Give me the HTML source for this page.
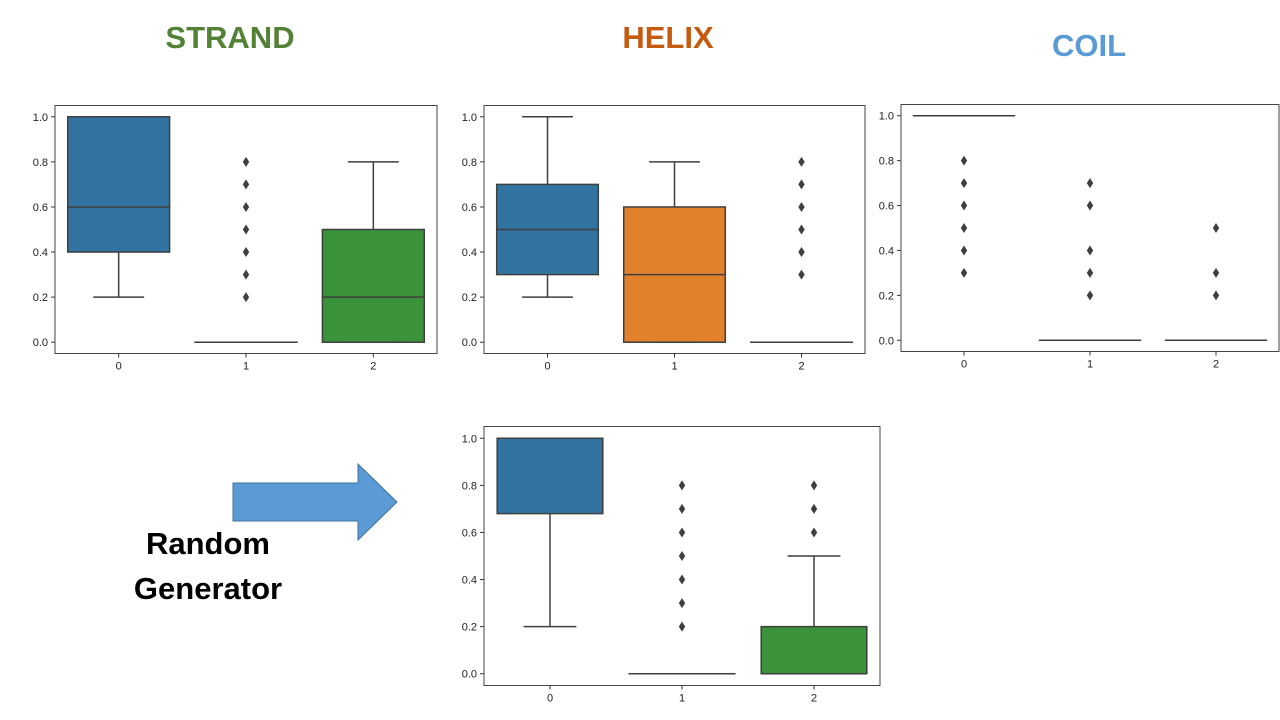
<!DOCTYPE html>
<html><head><meta charset="utf-8"><style>
body{margin:0;background:#fff;width:1280px;height:720px;overflow:hidden;font-family:"Liberation Sans",sans-serif}
.t{position:absolute;font-weight:bold;font-size:31px;transform:translateX(-50%);white-space:nowrap}
</style></head><body>
<div class="t" style="left:230px;top:20px;color:#538135">STRAND</div>
<div class="t" style="left:668px;top:20px;color:#c55a11">HELIX</div>
<div class="t" style="left:1089px;top:28px;color:#5b9bd5">COIL</div>
<div class="t" style="left:208px;top:521px;color:#000;text-align:center;line-height:45px">Random<br>Generator</div>
<svg id="s" width="1280" height="720" style="position:absolute;left:0;top:0">
<polygon points="233,483 358,483 358,464 397,502 358,540 358,521 233,521" fill="#5b9bd5" stroke="#41719c" stroke-width="1"/>
</svg>
<script>
const yTicks=[0,0.2,0.4,0.6,0.8,1.0];
const xCats=["0","1","2"];
const colors=["#3274a1","#e1812c","#3a923a"];
// per chart: [q1, median, q3, whiskerLow, whiskerHigh] for each category
const strandStats=[[0.4,0.6,1.0,0.2,1.0],[0,0,0,0,0],[0,0.2,0.5,0,0.8]];
const strandOut=[[],[0.2,0.3,0.4,0.5,0.6,0.7,0.8],[]];
const helixStats=[[0.3,0.5,0.7,0.2,1.0],[0,0.3,0.6,0,0.8],[0,0,0,0,0]];
const helixOut=[[],[],[0.3,0.4,0.5,0.6,0.7,0.8]];
const coilStats=[[1,1,1,1,1],[0,0,0,0,0],[0,0,0,0,0]];
const coilOut=[[0.3,0.4,0.5,0.6,0.7,0.8],[0.2,0.3,0.4,0.6,0.7],[0.2,0.3,0.5]];
const randStats=[[0.68,1.0,1.0,0.2,1.0],[0,0,0,0,0],[0,0,0.2,0,0.5]];
const randOut=[[],[0.2,0.3,0.4,0.5,0.6,0.7,0.8],[0.6,0.7,0.8]];

const svg=document.getElementById('s');
const NS="http://www.w3.org/2000/svg";
function mk(tag,attrs,parent){const e=document.createElementNS(NS,tag);for(const k in attrs)e.setAttribute(k,attrs[k]);(parent||svg).appendChild(e);return e;}
function chart(name,x0,y0,w,h,stats,outs){
  const g=mk('g',{});
  
  
  const sx=i=>x0+(i+0.5)/3*w;
  const sy=v=>y0+h-(v+0.05)/1.1*h;
  const bw=0.8*w/3;
  stats.forEach((s,i)=>{
    const cx=sx(i),[q1,md,q3,lo,hi]=s,col="#3f3f3f";
    const wl=mk('line',{x1:cx,x2:cx,y1:sy(q3),y2:sy(hi),stroke:col,'stroke-width':1.5},g);
    
    
    const wl2=mk('line',{x1:cx,x2:cx,y1:sy(q1),y2:sy(lo),stroke:col,'stroke-width':1.5},g);
    
    
    [lo,hi].forEach(v=>{const c=mk('line',{x1:cx-bw/4,x2:cx+bw/4,y1:sy(v),y2:sy(v),stroke:col,'stroke-width':1.5},g);
      
      });
    const r=mk('rect',{x:cx-bw/2,y:sy(q3),width:bw,height:Math.max(0.01,sy(q1)-sy(q3)),fill:colors[i],stroke:col,'stroke-width':1.5},g);
    
    
    const m=mk('line',{x1:cx-bw/2,x2:cx+bw/2,y1:sy(md),y2:sy(md),stroke:col,'stroke-width':1.5},g);
    
    
    outs[i].forEach(v=>{const d=mk('path',{d:`M${cx},${sy(v)-5}L${cx+3.2},${sy(v)}L${cx},${sy(v)+5}L${cx-3.2},${sy(v)}Z`,fill:col},g);
      
      });
    const tk=mk('line',{x1:cx,x2:cx,y1:y0+h,y2:y0+h+4,stroke:'#333'},g);
    
    
    const tl=mk('text',{x:cx,y:y0+h+16,'font-size':11,'text-anchor':'middle',fill:'#222','font-family':'Liberation Sans, sans-serif'},g);
    tl.textContent=xCats[i];
    
    
  });
  yTicks.forEach(v=>{
    const tk=mk('line',{x1:x0-4,x2:x0,y1:sy(v),y2:sy(v),stroke:'#333'},g);
    
    
    const tl=mk('text',{x:x0-7,y:sy(v)+4,'font-size':11,'text-anchor':'end',fill:'#222','font-family':'Liberation Sans, sans-serif'},g);
    tl.textContent=v.toFixed(1);
    
    
  });
  const f=mk('rect',{x:x0,y:y0,width:w,height:h,fill:'none',stroke:'#444','stroke-width':1},g);
  
  
}
chart('strand-chart',55,105.5,382,248,strandStats,strandOut);
chart('helix-chart',484,105.5,381,248,helixStats,helixOut);
chart('coil-chart',901,104.5,378,247,coilStats,coilOut);
chart('random-chart',484,426.5,396,259,randStats,randOut);
</script>
</body></html>
